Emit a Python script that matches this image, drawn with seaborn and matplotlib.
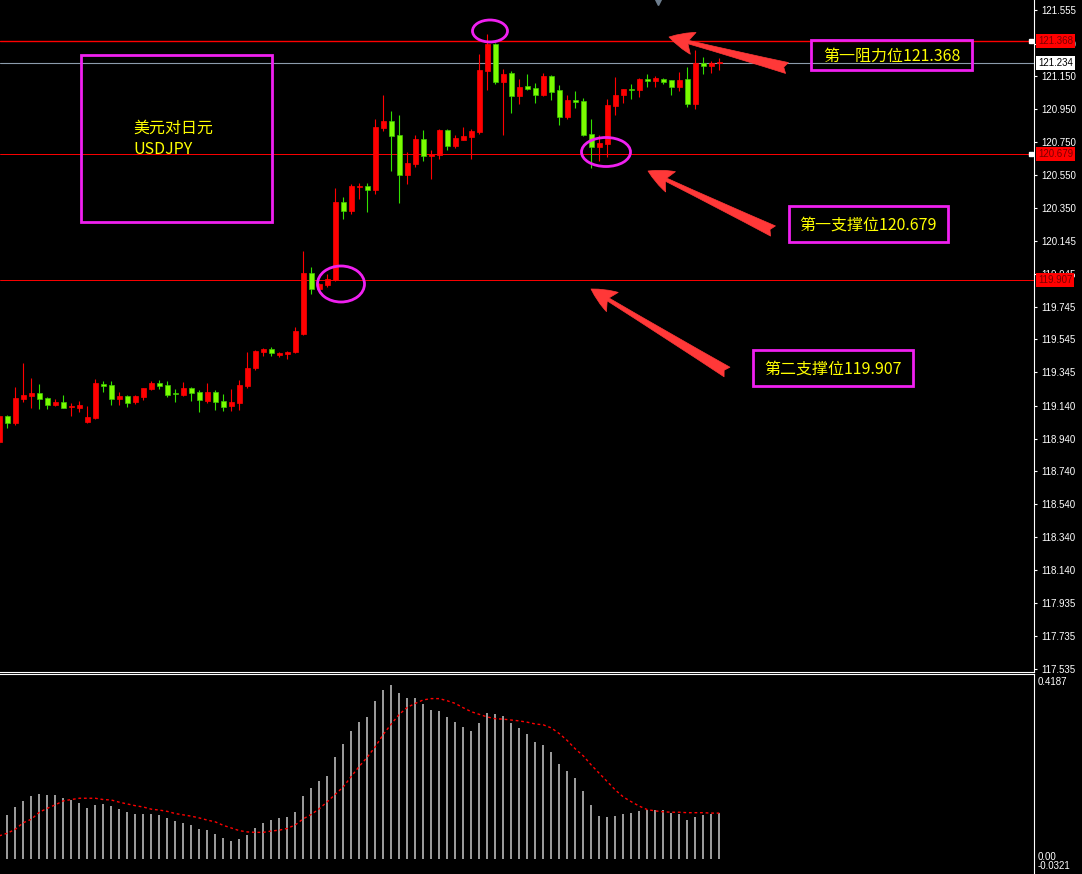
import numpy as np
import pandas as pd
import matplotlib
matplotlib.use("Agg")
import matplotlib.pyplot as plt
from matplotlib.patches import Ellipse, Rectangle
import seaborn as sns

# USDJPY candles (red = up, green = down)
opens = [118.920, 119.078, 119.038, 119.182, 119.202, 119.219, 119.188, 119.146, 119.164, 119.131,
         119.127, 119.042, 119.066, 119.274, 119.268, 119.182, 119.200, 119.164, 119.194, 119.243,
         119.280, 119.268, 119.216, 119.207, 119.249, 119.225, 119.170, 119.225, 119.170, 119.139,
         119.158, 119.261, 119.371, 119.469, 119.487, 119.450, 119.457, 119.469, 119.579, 119.951,
         119.853, 119.878, 119.908, 120.384, 120.329, 120.475, 120.483, 120.459, 120.835, 120.878,
         120.793, 120.550, 120.617, 120.768, 120.666, 120.672, 120.823, 120.727, 120.764, 120.780,
         120.811, 121.183, 121.348, 121.116, 121.171, 121.030, 121.091, 121.079, 121.037, 121.152,
         121.067, 120.904, 121.006, 121.000, 120.799, 120.721, 120.739, 120.971, 121.037, 121.073,
         121.067, 121.134, 121.122, 121.134, 121.128, 121.085, 121.134, 120.982, 121.232, 121.213,
         121.232]
highs = [119.091, 119.085, 119.255, 119.402, 119.312, 119.274, 119.194, 119.182, 119.207, 119.158,
         119.170, 119.139, 119.304, 119.292, 119.292, 119.225, 119.207, 119.207, 119.249, 119.292,
         119.298, 119.292, 119.243, 119.286, 119.255, 119.237, 119.280, 119.237, 119.213, 119.243,
         119.298, 119.469, 119.481, 119.493, 119.499, 119.469, 119.475, 119.621, 120.085, 119.987,
         119.890, 119.945, 120.469, 120.414, 120.494, 120.500, 120.500, 120.890, 121.037, 120.939,
         120.915, 120.689, 120.793, 120.823, 120.701, 120.829, 120.829, 120.793, 120.841, 120.829,
         121.287, 121.409, 121.354, 121.195, 121.183, 121.134, 121.165, 121.110, 121.171, 121.158,
         121.098, 121.037, 121.061, 121.018, 120.890, 120.793, 121.012, 121.146, 121.073, 121.104,
         121.140, 121.165, 121.152, 121.140, 121.128, 121.177, 121.207, 121.311, 121.268, 121.244,
         121.262]
lows = [118.902, 119.007, 119.024, 119.164, 119.127, 119.121, 119.121, 119.139, 119.127, 119.078,
        119.103, 119.036, 119.060, 119.225, 119.146, 119.146, 119.133, 119.152, 119.176, 119.237,
        119.243, 119.194, 119.164, 119.200, 119.170, 119.103, 119.158, 119.115, 119.109, 119.109,
        119.115, 119.249, 119.359, 119.444, 119.444, 119.438, 119.426, 119.463, 119.573, 119.823,
        119.841, 119.865, 119.902, 120.280, 120.311, 120.402, 120.325, 120.434, 120.817, 120.575,
        120.380, 120.495, 120.599, 120.636, 120.526, 120.648, 120.703, 120.715, 120.762, 120.648,
        120.799, 121.067, 121.104, 120.793, 120.927, 120.982, 121.067, 120.988, 121.030, 121.006,
        120.855, 120.892, 120.957, 120.788, 120.593, 120.636, 120.660, 120.915, 120.988, 121.012,
        121.024, 121.085, 121.085, 121.104, 121.037, 121.061, 120.963, 120.951, 121.165, 121.171,
        121.189]
closes = [119.078, 119.038, 119.188, 119.207, 119.219, 119.184, 119.147, 119.164, 119.129, 119.133,
          119.146, 119.072, 119.280, 119.261, 119.182, 119.200, 119.158, 119.200, 119.249, 119.280,
          119.261, 119.207, 119.213, 119.249, 119.219, 119.176, 119.225, 119.164, 119.133, 119.164,
          119.268, 119.371, 119.475, 119.487, 119.463, 119.463, 119.469, 119.597, 119.951, 119.853,
          119.884, 119.914, 120.384, 120.329, 120.481, 120.481, 120.459, 120.841, 120.878, 120.786,
          120.550, 120.622, 120.768, 120.666, 120.678, 120.823, 120.727, 120.774, 120.786, 120.817,
          121.189, 121.348, 121.116, 121.165, 121.030, 121.085, 121.073, 121.037, 121.152, 121.055,
          120.904, 121.006, 120.994, 120.794, 120.721, 120.744, 120.976, 121.037, 121.073, 121.067,
          121.134, 121.122, 121.140, 121.116, 121.085, 121.128, 120.982, 121.232, 121.213, 121.232,
          121.234]

# oscillator panel: histogram from bar 1, signal from bar 0
macd = [0.101, 0.119, 0.133, 0.144, 0.149, 0.146, 0.146, 0.140, 0.135, 0.128,
        0.117, 0.124, 0.126, 0.121, 0.114, 0.108, 0.103, 0.103, 0.103, 0.101,
        0.094, 0.087, 0.082, 0.078, 0.069, 0.066, 0.057, 0.048, 0.041, 0.046,
        0.055, 0.071, 0.082, 0.089, 0.094, 0.096, 0.108, 0.144, 0.162, 0.178,
        0.190, 0.233, 0.263, 0.293, 0.313, 0.325, 0.362, 0.387, 0.398, 0.380,
        0.368, 0.368, 0.355, 0.341, 0.339, 0.325, 0.313, 0.302, 0.293, 0.311,
        0.334, 0.332, 0.327, 0.311, 0.300, 0.286, 0.268, 0.261, 0.245, 0.217,
        0.201, 0.185, 0.156, 0.124, 0.098, 0.096, 0.098, 0.103, 0.105, 0.110,
        0.112, 0.112, 0.112, 0.105, 0.103, 0.089, 0.096, 0.101, 0.103, 0.105]
signal = [0.053, 0.059, 0.068, 0.083, 0.091, 0.107, 0.116, 0.124, 0.133, 0.136,
          0.139, 0.139, 0.139, 0.136, 0.135, 0.130, 0.126, 0.122, 0.119, 0.114,
          0.112, 0.109, 0.104, 0.101, 0.098, 0.094, 0.089, 0.085, 0.077, 0.071,
          0.065, 0.062, 0.061, 0.061, 0.064, 0.066, 0.070, 0.078, 0.092, 0.102,
          0.115, 0.131, 0.148, 0.165, 0.189, 0.212, 0.233, 0.257, 0.285, 0.309,
          0.331, 0.347, 0.356, 0.364, 0.367, 0.367, 0.362, 0.356, 0.346, 0.337,
          0.331, 0.325, 0.321, 0.320, 0.318, 0.316, 0.313, 0.309, 0.307, 0.300,
          0.287, 0.271, 0.252, 0.236, 0.215, 0.196, 0.177, 0.158, 0.142, 0.131,
          0.121, 0.113, 0.110, 0.108, 0.107, 0.107, 0.106, 0.106, 0.106, 0.105,
          0.105]

price_ticks = [121.555, 121.350, 121.150, 120.950, 120.750, 120.550, 120.350, 120.145,
               119.945, 119.745, 119.545, 119.345, 119.140, 118.940, 118.740, 118.540,
               118.340, 118.140, 117.935, 117.735, 117.535]
resistance = 121.368
support1 = 120.679
support2 = 119.907
last_price = 121.234
macd_max = 0.4187
macd_min = -0.0321

W, H = 1082, 874
UP = "#FF0000"
DOWN = "#7CFC00"
MAGENTA = "#F020F0"
YELLOW = "#FFFF00"

sns.set_style("dark", {"axes.facecolor": "black", "figure.facecolor": "black",
                       "axes.grid": False})
plt.rcParams['font.family'] = ['Noto Sans CJK SC', 'DejaVu Sans']

df = pd.DataFrame({"open": opens, "high": highs, "low": lows, "close": closes})
df["idx"] = np.arange(len(df))
df["up"] = df["close"] >= df["open"]

fig = plt.figure(figsize=(W / 100, H / 100), dpi=100, facecolor="black")
ax = fig.add_axes([0, 1 - 672 / H, 1034 / W, 672 / H])
ax2 = fig.add_axes([0, 0, 1034 / W, 200 / H])

# --- price panel ---
for a in (ax, ax2):
    a.set_facecolor("black")
    for s in a.spines.values():
        s.set_visible(False)
    a.set_xlim(0.09, 129.34)
    a.set_xticks([])

ax.set_ylim(117.516, 121.616)
ax.spines["right"].set_visible(True)
ax.spines["right"].set_color("white")
ax.spines["bottom"].set_visible(True)
ax.spines["bottom"].set_color("white")

ax.axhline(resistance, color="#FF0000", lw=1.0, zorder=1)
ax.axhline(last_price, color="#8C9CAC", lw=0.8, zorder=1)
ax.axhline(support1, color="#FF0000", lw=0.7, zorder=1)
ax.axhline(support2, color="#FF0000", lw=0.7, zorder=1)

wick_colors = np.where(df["up"], UP, "#33E000")
ax.vlines(df["idx"], df["low"], df["high"], colors=wick_colors, lw=0.8, zorder=2)
body_lo = np.minimum(df["open"], df["close"])
body_h = np.maximum((df["close"] - df["open"]).abs(), 0.007)
ax.bar(df["idx"], body_h, bottom=body_lo, width=0.62,
       color=np.where(df["up"], UP, DOWN),
       edgecolor=np.where(df["up"], UP, "#3CC800"), linewidth=0.5, zorder=3)

ax.yaxis.tick_right()
ax.set_yticks(price_ticks)
ax.set_yticklabels([f"{v:.3f}" for v in price_ticks], fontfamily="Liberation Sans")
ax.tick_params(axis="y", colors="white", labelsize=7, length=2.5, width=0.8, pad=2.5)

yt = ax.get_yaxis_transform()
for val, fc, tc in [(resistance, "#FF0000", "#7A0000"), (last_price, "white", "black"),
                    (support1, "#FF0000", "#7A0000"), (support2, "#FF0000", "#7A0000")]:
    ax.text(1.004, val, f"{val:.3f}", transform=yt, ha="left", va="center", fontsize=7,
            fontfamily="Liberation Sans", color=tc, clip_on=False, zorder=6,
            bbox=dict(boxstyle="square,pad=0.2", fc=fc, ec="none"))
for val in (resistance, support1):
    ax.plot([1031 / 1034], [val], transform=yt, marker="s", ms=3, mfc="white",
            mec="white", clip_on=False, zorder=6)
ax.plot([658 / 1034], [1.0], transform=ax.transAxes, marker="v", ms=7,
        color="#6E7E8E", clip_on=False)

# --- oscillator panel ---
ax2.set_ylim(-0.0343, 0.4233)
ax2.spines["right"].set_visible(True)
ax2.spines["right"].set_color("white")
ax2.spines["top"].set_visible(True)
ax2.spines["top"].set_color("white")
ax2.set_yticks([])
ax2.vlines(df["idx"][1:], 0, macd, colors="#C8C8C8", lw=1.1)
sns.lineplot(x=df["idx"], y=signal, ax=ax2, color="#FF0000", lw=1.0,
             linestyle=(0, (2, 2)))
ax2.set_xlabel("")
ax2.set_ylabel("")
ax2.set_xlim(0.09, 129.34)
for txt, ypix in [(f"{macd_max:.4f}", 682), ("0.00", 857), (f"{macd_min:.4f}", 866)]:
    fig.text(1038 / W, 1 - ypix / H, txt, ha="left", va="center", fontsize=7,
             fontfamily="Liberation Sans", color="white")


# --- annotations (figure pixel positions) ---
def fx(x):
    return x / W


def fy(y):
    return 1 - y / H


def frame(x0, y0, x1, y1):
    fig.add_artist(Rectangle((fx(x0), fy(y1)), (x1 - x0) / W, (y1 - y0) / H,
                             transform=fig.transFigure, fill=False, ec=MAGENTA, lw=2.0))


frame(81, 55, 272, 222)
fig.text(fx(133), fy(128), "美元对日元", color=YELLOW, fontsize=11.5, ha="left", va="center")
fig.text(fx(133), fy(150), "USDJPY", color=YELLOW, fontsize=11.5, ha="left", va="center")

boxes = [((811, 40, 972, 70), "第一阻力位121.368"),
         ((789, 206, 948, 242), "第一支撑位120.679"),
         ((753, 350, 913, 386), "第二支撑位119.907")]
for (x0, y0, x1, y1), label in boxes:
    frame(x0, y0, x1, y1)
    fig.text(fx((x0 + x1) / 2), fy((y0 + y1) / 2 + 1), label, color=YELLOW,
             fontsize=11.5, ha="center", va="center")

for (cx, cy, w, h) in [(490, 31, 35, 22), (606, 152, 49, 29), (341, 284, 47, 36)]:
    fig.add_artist(Ellipse((fx(cx), fy(cy)), w / W, h / H, transform=fig.transFigure,
                           fill=False, ec=MAGENTA, lw=2.0))

for tail, tip in [((787, 68), (669, 37)), ((773, 231), (648, 171)), ((727, 372), (591, 289))]:
    ax.annotate("", xy=(tip[0], H - tip[1]), xycoords="figure pixels",
                xytext=(tail[0], H - tail[1]), textcoords="figure pixels",
                arrowprops=dict(arrowstyle="fancy,head_length=1.0,head_width=0.9,tail_width=0.45",
                                fc="#FF3838", ec="#FF3838", lw=0.5, mutation_scale=18,
                                shrinkA=0, shrinkB=0),
                annotation_clip=False)

fig.savefig("out.png", dpi=100, facecolor="black")
